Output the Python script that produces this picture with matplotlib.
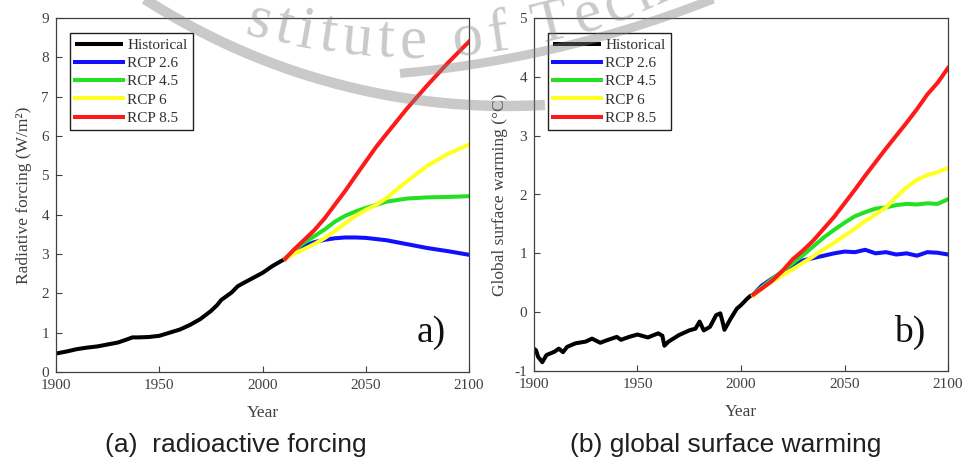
import numpy as np
import matplotlib
matplotlib.use('Agg')
import matplotlib.pyplot as plt
from matplotlib.lines import Line2D
from matplotlib.transforms import IdentityTransform

plt.rcParams['font.family'] = ['Liberation Serif', 'DejaVu Serif']
plt.rcParams['axes.unicode_minus'] = False

#########################################
# (a) radiative forcing, W/m2
hist_years_f = [1900, 1905, 1910, 1915, 1920, 1925, 1930, 1935, 1937, 1940, 1945, 1950, 1955,
                1960, 1965, 1970, 1975, 1978, 1980, 1985, 1988, 1990, 1995, 2000, 2005, 2011]
hist_forc = [0.47, 0.52, 0.58, 0.62, 0.65, 0.70, 0.75, 0.84, 0.88, 0.88, 0.89, 0.92, 1.00,
             1.08, 1.20, 1.35, 1.55, 1.70, 1.83, 2.02, 2.18, 2.24, 2.38, 2.52, 2.70, 2.88]

rcp_years_f = [2011, 2015, 2020, 2025, 2030, 2035, 2040, 2045, 2050, 2055, 2060, 2070, 2080, 2090, 2100]
rcp26_f = [2.88, 3.05, 3.20, 3.30, 3.36, 3.40, 3.42, 3.42, 3.41, 3.38, 3.35, 3.25, 3.15, 3.07, 2.98]
rcp45_f = [2.88, 3.08, 3.28, 3.45, 3.62, 3.82, 3.97, 4.08, 4.17, 4.25, 4.33, 4.41, 4.44, 4.45, 4.47]
rcp60_f = [2.88, 3.00, 3.12, 3.25, 3.40, 3.58, 3.78, 3.97, 4.12, 4.25, 4.42, 4.85, 5.25, 5.55, 5.78]
rcp85_f = [2.88, 3.10, 3.35, 3.60, 3.90, 4.25, 4.60, 4.98, 5.35, 5.72, 6.05, 6.70, 7.30, 7.87, 8.40]

# (b) global surface warming, deg C
hist_years_t = [1900, 1901, 1902, 1904, 1906, 1908, 1910, 1912, 1914, 1916, 1918, 1920, 1925,
                1928, 1932, 1935, 1940, 1942, 1946, 1950, 1955, 1960, 1962, 1963, 1965, 1970,
                1975, 1978, 1980, 1982, 1985, 1988, 1990, 1991, 1992, 1995, 1998, 2000, 2003, 2005]
hist_temp = [-0.62, -0.65, -0.76, -0.85, -0.73, -0.70, -0.67, -0.62, -0.68, -0.59, -0.56, -0.53,
             -0.50, -0.45, -0.52, -0.48, -0.42, -0.47, -0.42, -0.38, -0.43, -0.36, -0.40, -0.57,
             -0.50, -0.39, -0.31, -0.28, -0.16, -0.31, -0.25, -0.05, -0.02, -0.15, -0.30, -0.11,
             0.06, 0.12, 0.23, 0.29]

rcp_years_t = [2006, 2010, 2015, 2020, 2025, 2030, 2035, 2040, 2045, 2050, 2055, 2060, 2065,
               2070, 2075, 2080, 2085, 2090, 2095, 2100]
rcp26_t = [0.30, 0.45, 0.57, 0.68, 0.80, 0.88, 0.92, 0.96, 1.00, 1.03, 1.02, 1.06, 1.00,
           1.02, 0.98, 1.00, 0.96, 1.02, 1.01, 0.98]
rcp45_t = [0.30, 0.42, 0.56, 0.70, 0.83, 0.97, 1.12, 1.27, 1.40, 1.52, 1.63, 1.70, 1.76,
           1.78, 1.82, 1.84, 1.83, 1.85, 1.84, 1.92]
rcp60_t = [0.28, 0.40, 0.52, 0.63, 0.73, 0.84, 0.95, 1.07, 1.18, 1.30, 1.42, 1.55, 1.66,
           1.78, 1.96, 2.12, 2.25, 2.33, 2.38, 2.45]
rcp85_t = [0.30, 0.40, 0.53, 0.70, 0.90, 1.05, 1.22, 1.42, 1.62, 1.85, 2.08, 2.32, 2.55,
           2.78, 3.00, 3.22, 3.45, 3.70, 3.90, 4.15]

labels = ['Historical', 'RCP 2.6', 'RCP 4.5', 'RCP 6', 'RCP 8.5']
colors = ['black', '#1010ff', '#22e022', '#ffff22', '#ff1a1a']

#########################################
W, H = 968, 459
fig = plt.figure(figsize=(W / 100, H / 100), dpi=100)
ident = IdentityTransform()

def MakeAxes(box):
    x0, y0, x1, y1 = box
    ax = fig.add_axes([x0 / W, 1 - y1 / H, (x1 - x0) / W, (y1 - y0) / H])
    for s in ax.spines.values():
        s.set_color('#404040')
        s.set_linewidth(0.9)
    ax.tick_params(direction='in', length=4, width=0.8, colors='#404040',
                   labelsize=11, pad=5)
    ax.set_xlim(1900, 2100)
    ax.set_xticks([1900, 1950, 2000, 2050, 2100])
    return ax

def DrawPanel(ax, hx, hy, rx, series, ylabel, ylab_x, tag):
    ax.plot(hx, hy, color=colors[0], lw=2.9, label=labels[0], solid_capstyle='butt')
    for i, ys in enumerate(series):
        ax.plot(rx, ys, color=colors[i + 1], lw=2.9, label=labels[i + 1])
    ax.set_xlabel('Year', fontsize=12.5, color='#404040')
    ax.xaxis.set_label_coords(0.5, -0.115)
    ax.xaxis.label.set_va('center')
    ax.set_ylabel(ylabel, fontsize=12.5, color='#404040')
    ax.yaxis.set_label_coords(ylab_x, 0.5)
    ax.yaxis.label.set_va('center')
    leg = ax.legend(loc='upper left', bbox_to_anchor=(0.034, 0.958), borderaxespad=0,
                    fontsize=11, handlelength=3.1, handletextpad=0.3, labelspacing=0.3,
                    borderpad=0.35, fancybox=False, framealpha=1, edgecolor='#202020')
    leg.get_frame().set_linewidth(1.0)
    for t in leg.get_texts():
        t.set_color('#303030')
    ax.text(0.908, 0.11, tag, transform=ax.transAxes, fontsize=27, ha='center',
            va='center', color='#101010')

ax1 = MakeAxes((56, 18, 469, 372))
ax1.set_ylim(0, 9)
ax1.set_yticks(range(0, 10))
DrawPanel(ax1, hist_years_f, hist_forc, rcp_years_f,
          [rcp26_f, rcp45_f, rcp60_f, rcp85_f],
          'Radiative forcing (W/m²)', -0.077, 'a)')

ax2 = MakeAxes((534, 18, 948, 371))
ax2.set_ylim(-1, 5)
ax2.set_yticks(range(-1, 6))
DrawPanel(ax2, hist_years_t, hist_temp, rcp_years_t,
          [rcp26_t, rcp45_t, rcp60_t, rcp85_t],
          'Global surface warming (°C)', -0.082, 'b)')

fig.text(236 / W, 1 - 445 / H, '(a)  radioactive forcing', ha='center', va='center',
         fontsize=19, family=['Liberation Sans', 'DejaVu Sans'], color='#202020')
fig.text(726 / W, 1 - 445 / H, '(b) global surface warming', ha='center', va='center',
         fontsize=19, family=['Liberation Sans', 'DejaVu Sans'], color='#202020')

#########################################
# faint watermark seal, centre above the picture (pixel coords, y down)
wm_col = (0.5, 0.5, 0.5, 0.42)

def Ring(cx, cy, r, xmin, xmax, lw):
    xs = np.linspace(xmin, xmax, 200)
    ys = cy + np.sqrt(r ** 2 - (xs - cx) ** 2)
    fig.add_artist(Line2D(xs, H - ys, transform=ident, color=wm_col, lw=lw,
                          solid_capstyle='butt', zorder=50))

Ring(507, -561, 667, 140, 545, 7.5)
Ring(299, -1048, 1126, 400, 720, 6.5)

# only the part of the seal text that shows in the picture
wm_text = 'stitute of Tech'
em = 61.1   # px, 44 pt
widths = {'s': .389, 't': .278, 'i': .278, 'u': .5, 'e': .444, ' ': .25, 'o': .5,
          'f': .333, 'T': .611, 'c': .444, 'h': .5}
track = 6
tcx, tcy, Rt = 412, -546, 603
centres = []
s = 0
for ch in wm_text:
    a = widths[ch] * em
    centres.append(s + a / 2)
    s += a + track
shift = np.arcsin((255 - tcx) / Rt) * Rt - centres[0]
for ch, c in zip(wm_text, centres):
    if ch == ' ':
        continue
    phi = (c + shift) / Rt
    x = tcx + Rt * np.sin(phi)
    y = tcy + Rt * np.cos(phi)
    fig.text(x, H - y, ch, transform=ident, fontsize=44, family='Liberation Serif',
             color=wm_col, rotation=np.degrees(phi), rotation_mode='anchor',
             ha='center', va='baseline', zorder=50)

plt.savefig('out.png', dpi=100)
